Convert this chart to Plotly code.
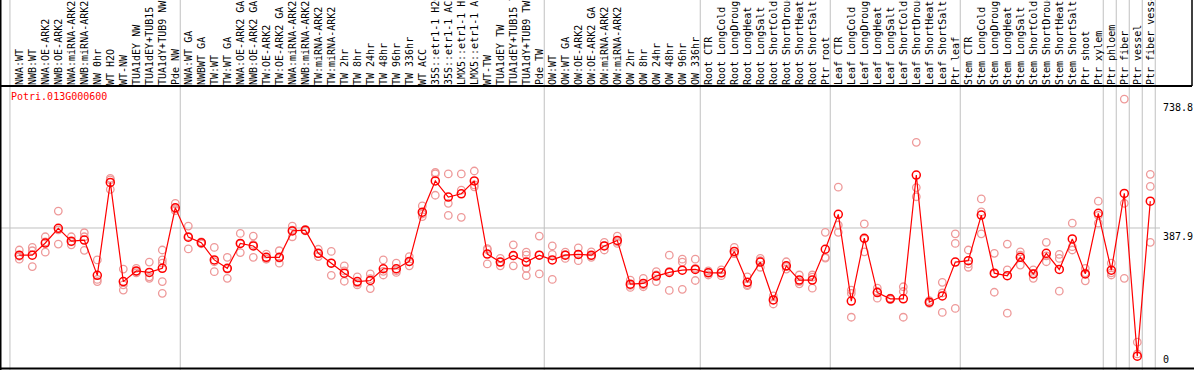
import plotly.graph_objects as go

FONT = "DejaVu Sans Mono"

gene = "Potri.013G000600"

categories = [
    "NWA:WT", "NWB:WT", "NWA:OE-ARK2", "NWB:OE-ARK2", "NWA:miRNA-ARK2", "NWB:miRNA-ARK2",
    "NW 0hr", "WT H2O", "WT-NW", "TUA1dEY NW", "TUA1dEY+TUB15 NW", "TUA1dY+TUB9 NW", "Pde NW",
    "NWA:WT GA", "NWBWT GA", "TW:WT", "TW:WT GA", "NWA:OE-ARK2 GA", "NWB:OE-ARK2 GA",
    "TW:OE-ARK2", "TW:OE-ARK2 GA", "NWA:miRNA-ARK2", "NWB:miRNA-ARK2", "TW:miRNA-ARK2",
    "TW:miRNA-ARK2", "TW 2hr", "TW 8hr", "TW 24hr", "TW 48hr", "TW 96hr", "TW 336hr", "WT ACC",
    "35S::etr1-1 H2O", "35S::etr1-1 ACC", "LMX5::etr1-1 H2O", "LMX5::etr1-1 ACC", "WT-TW",
    "TUA1dEY TW", "TUA1dEY+TUB15 TW", "TUA1dY+TUB9 TW", "Pde TW",
    "OW:WT", "OW:WT GA", "OW:OE-ARK2", "OW:OE-ARK2 GA", "OW:miRNA-ARK2", "OW:miRNA-ARK2",
    "OW 2hr", "OW 8hr", "OW 24hr", "OW 48hr", "OW 96hr", "OW 336hr",
    "Root CTR", "Root LongCold", "Root LongDrought", "Root LongHeat", "Root LongSalt",
    "Root ShortCold", "Root ShortDrought", "Root ShortHeat", "Root ShortSalt", "Ptr root",
    "Leaf CTR", "Leaf LongCold", "Leaf LongDrought", "Leaf LongHeat", "Leaf LongSalt",
    "Leaf ShortCold", "Leaf ShortDrought", "Leaf ShortHeat", "Leaf ShortSalt", "Ptr leaf",
    "Stem CTR", "Stem LongCold", "Stem LongDrought", "Stem LongHeat", "Stem LongSalt",
    "Stem ShortCold", "Stem ShortDrought", "Stem ShortHeat", "Stem ShortSalt", "Ptr shoot",
    "Ptr xylem", "Ptr phloem", "Ptr fiber", "Ptr vessel", "Ptr fiber vessel",
]

means = [
    314, 314, 347, 387, 352, 355, 259, 512, 242, 271, 267, 278, 443,
    363, 348, 301, 278, 346, 339, 308, 308, 380, 382, 319, 292, 265, 242, 245, 277, 277,
    297, 431, 516, 472, 481, 516, 317, 295, 313, 295, 314,
    301, 314, 316, 314, 339, 354, 235, 237, 257, 267, 273, 275,
    266, 266, 324, 240, 295, 192, 285, 246, 246, 330,
    425, 189, 360, 212, 195, 195, 532, 186, 203, 295,
    299, 423, 265, 258, 308, 263, 319, 275, 358, 263, 428,
    273, 482, 39, 461,
]

replicates = [
    [328, 303, 311], [335, 326, 283], [364, 322, 350], [434, 344, 383], [364, 342, 350],
    [375, 327, 364], [301, 248, 242], [523, 493, 519], [276, 219, 233], [278, 266, 270],
    [295, 255, 251], [328, 301, 292, 242, 210], [455, 435, 440],
    [393, 331, 365], [350, 345, 349], [335, 269, 296], [308, 251, 276], [373, 321, 345],
    [366, 308, 343], [317, 304, 303], [326, 292, 306], [393, 364, 382], [384, 380, 382],
    [330, 310, 318], [324, 259, 292], [285, 243, 271], [255, 233, 238], [263, 223, 250],
    [301, 260, 270], [292, 267, 272], [310, 285, 296], [448, 419, 426], [539, 535, 477],
    [535, 455, 422], [535, 491, 417], [543, 500, 505], [332, 290, 329], [305, 285, 295],
    [342, 285, 312], [322, 314, 278, 258], [366, 263, 314],
    [339, 248, 316], [322, 305, 315], [334, 299, 316], [323, 308, 312], [349, 328, 340],
    [366, 346, 351], [246, 226, 232], [251, 228, 233], [269, 242, 260], [314, 218, 270],
    [303, 295, 221], [303, 245, 278],
    [271, 260, 267], [274, 258, 266], [335, 319, 318], [255, 231, 234], [305, 281, 299],
    [203, 181, 192], [296, 276, 283], [260, 242, 236], [260, 224, 254], [376, 308, 306],
    [499, 396, 376], [219, 210, 145], [399, 323, 358], [224, 197, 215], [197, 193, 195],
    [228, 215, 145], [621, 498, 473], [190, 183, 186], [240, 158, 211], [372, 346, 169],
    [328, 290, 281], [467, 432, 372], [319, 213, 263], [344, 274, 156], [323, 287, 314],
    [274, 251, 264], [349, 296, 312], [316, 305, 216], [401, 337, 328], [278, 244, 266],
    [461, 401, 422],
    [292, 260, 266], [738.8, 455, 251], [77, 45, 0], [534, 501, 349],
]

scale_labels = ["0", "387.9", "738.8"]
scale_values = [0, 387.9, 738.8]
reference_line = 387.9

# last category index of each group (separator drawn after it)
group_ends = [12, 40, 52, 62, 72, 83, 84, 85, 86, 87]

W, H = 1194, 370
ML, MR, MT, MB = 1, 2, 86, 0
XR = [-1.408, 90.208]
YR = [1.36, 774.4]

x_idx = list(range(len(categories)))
rep_x = [i for i, reps in enumerate(replicates) for _ in reps]
rep_y = [v for reps in replicates for v in reps]

fig = go.Figure()
fig.add_trace(go.Scatter(
    x=rep_x, y=rep_y, mode="markers", cliponaxis=False, hoverinfo="skip",
    marker=dict(symbol="circle-open", size=7.5, color="#ee9999", line=dict(width=1.3, color="#ee9999")),
))
fig.add_trace(go.Scatter(
    x=x_idx, y=means, mode="lines+markers", cliponaxis=False,
    line=dict(color="#ff0000", width=1.2),
    marker=dict(symbol="circle-open", size=8, color="#ff0000", line=dict(width=1.5, color="#ff0000")),
))

pw = W - ML - MR
ph = H - MT - MB


def xp(v):
    return (v - XR[0]) / (XR[1] - XR[0])


def yp(v):
    return (v - YR[0]) / (YR[1] - YR[0])


top_paper = 1 + MT / ph
shapes = []
sep_positions = [-0.72] + [g + 0.38 for g in group_ends]
for s in sep_positions:
    shapes.append(dict(type="line", xref="paper", yref="paper", x0=xp(s), x1=xp(s), y0=-0.01,
                       y1=top_paper + 0.01, line=dict(color="#c0c0c0", width=1), layer="below"))
shapes.append(dict(type="line", xref="paper", yref="paper", x0=-0.002, x1=(1160 - ML) / pw,
                   y0=yp(reference_line), y1=yp(reference_line),
                   line=dict(color="#c0c0c0", width=1), layer="below"))
# frame lines
shapes.append(dict(type="line", xref="paper", yref="paper", x0=-1 / pw, x1=1, y0=1, y1=1,
                   line=dict(color="black", width=2)))
shapes.append(dict(type="line", xref="paper", yref="paper", x0=-0.5 / pw, x1=-0.5 / pw, y0=-0.01,
                   y1=top_paper + 0.01, line=dict(color="black", width=2)))
shapes.append(dict(type="line", xref="paper", yref="paper", x0=1, x1=1, y0=1,
                   y1=top_paper + 0.01, line=dict(color="black", width=1.5)))
shapes.append(dict(type="line", xref="paper", yref="paper", x0=-1 / pw, x1=1 + MR / pw,
                   y0=1.5 / ph, y1=1.5 / ph, line=dict(color="black", width=2)))

annotations = [dict(text=gene, xref="paper", yref="paper", x=(9 - ML) / pw, y=1 - 11 / ph,
                    xanchor="left", yanchor="middle", showarrow=False,
                    font=dict(family=FONT, size=10, color="#ff0000"))]
for lab, val in zip(scale_labels, scale_values):
    if val == 0:
        ypos, anchor, shift = 4 / ph, "bottom", 0
    else:
        ypos, anchor, shift = yp(val), "top", -2
    annotations.append(dict(text=lab, xref="paper", yref="paper", x=(1162 - ML) / pw, y=ypos,
                            xanchor="left", yanchor=anchor, showarrow=False, borderpad=0,
                            yshift=shift, font=dict(family=FONT, size=10, color="black")))

fig.update_layout(
    width=W, height=H, margin=dict(l=ML, r=MR, t=MT, b=MB, pad=0),
    paper_bgcolor="white", plot_bgcolor="rgba(0,0,0,0)", showlegend=False,
    shapes=shapes, annotations=annotations,
    xaxis=dict(range=XR, side="top", tickmode="array", tickvals=x_idx, ticktext=categories,
               tickangle=-90, tickfont=dict(family=FONT, size=10, color="black"),
               showgrid=False, zeroline=False, showline=False, ticks="", automargin=False,
               fixedrange=True),
    yaxis=dict(range=YR, showgrid=False, zeroline=False, showticklabels=False, showline=False,
               fixedrange=True),
)

fig.write_html("out.html", config={"displayModeBar": False},
               post_script="document.body.style.margin='0';document.body.style.overflow='hidden';")
